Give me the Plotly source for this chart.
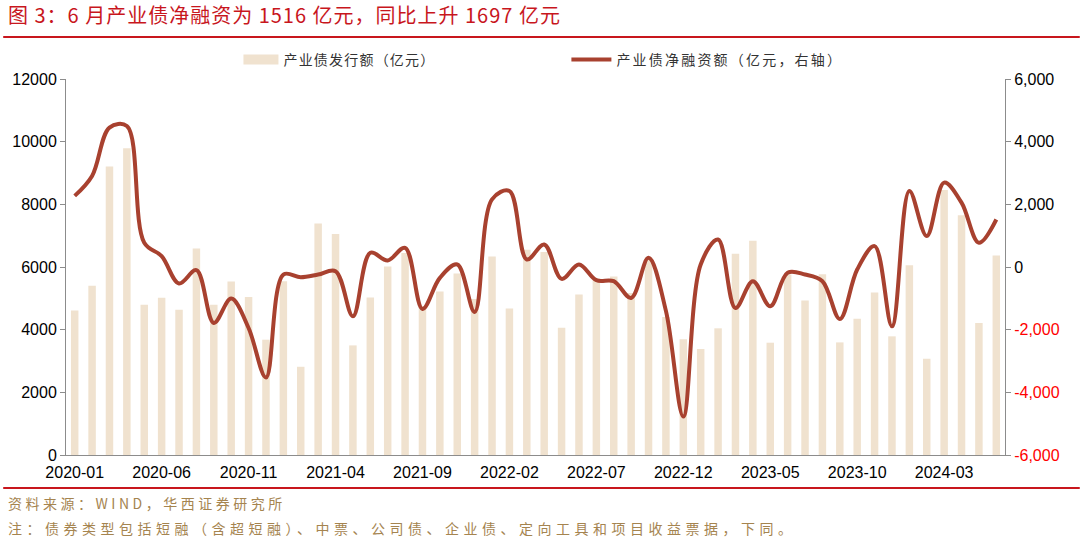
import plotly.graph_objects as go

months = ["2020-01","2020-02","2020-03","2020-04","2020-05","2020-06","2020-07","2020-08","2020-09","2020-10","2020-11","2020-12",
          "2021-01","2021-02","2021-03","2021-04","2021-05","2021-06","2021-07","2021-08","2021-09","2021-10","2021-11","2021-12",
          "2022-01","2022-02","2022-03","2022-04","2022-05","2022-06","2022-07","2022-08","2022-09","2022-10","2022-11","2022-12",
          "2023-01","2023-02","2023-03","2023-04","2023-05","2023-06","2023-07","2023-08","2023-09","2023-10","2023-11","2023-12",
          "2024-01","2024-02","2024-03","2024-04","2024-05","2024-06"]

issuance = [4615, 5404, 9210, 9786, 4797, 5021, 4637, 6588, 4797, 5536, 5045, 3680,
            5546, 2816, 7392, 7050, 3498, 5024, 6016, 6450, 4750, 5216, 5792, 4981,
            6336, 4672, 6549, 6475, 4064, 5120, 5632, 5696, 5173, 6300, 4405, 3691,
            3381, 4043, 6421, 6837, 3584, 5760, 4928, 5770, 3594, 4352, 5184, 3787,
            6059, 3072, 8459, 7648, 4213, 6368]

net_financing = [2270, 2906, 4450, 4500, 773, 347, -528, -102, -1786, -1008, -1946, -3525,
                 -240, -325, -240, -133, -1573, 453, 208, 613, -1338, -347, 80, -1434,
                 2160, 2427, 240, 720, -378, 80, -421, -453, -987, 293, -1400, -4773,
                 80, 880, -1307, -453, -1253, -181, -240, -453, -1659, -80, 667, -1893,
                 2427, 987, 2693, 2053, 773, 1516]

x_tick_labels = ["2020-01","2020-06","2020-11","2021-04","2021-09","2022-02","2022-07",
                 "2022-12","2023-05","2023-10","2024-03"]
left_ticks = [0, 2000, 4000, 6000, 8000, 10000, 12000]
right_ticks = [-6000, -4000, -2000, 0, 2000, 4000, 6000]

title_text = "图 3：6 月产业债净融资为 1516 亿元，同比上升 1697 亿元"
source_text = "资料来源：WIND，华西证券研究所"
note_text = "注：债券类型包括短融（含超短融）、中票、公司债、企业债、定向工具和项目收益票据，下同。"
bar_name = "产业债发行额（亿元）"
line_name = "产业债净融资额（亿元，右轴）"

W, H = 1080, 550
L, R, T, B = 63, 75, 79, 95
PW, PH = W - L - R, H - T - B

BAR_COLOR = "#F0E2CF"
LINE_COLOR = "#A8412F"

def px(xp):
    return (xp - L) / PW

def py(yp):
    return (H - B - yp) / PH

def spaced(text, sp):
    return f"<span style='letter-spacing:{sp}px'>{text}</span>"

def fmt_right(v):
    s = f"{v:,}"
    if v < 0:
        return f"<span style='color:#FF0000'>{s}</span>"
    return s

fig = go.Figure()
fig.add_trace(go.Bar(x=months, y=issuance, name=bar_name, marker_color=BAR_COLOR,
                     marker_line_width=0, yaxis="y", showlegend=False))
# legend entry for the bars, drawn as a wide swatch like the reference
fig.add_trace(go.Scatter(x=[None], y=[None], name=spaced(bar_name, 1.2), mode="lines",
                         line=dict(color=BAR_COLOR, width=12), yaxis="y",
                         legend="legend", showlegend=True, hoverinfo="skip"))
fig.add_trace(go.Scatter(x=months, y=net_financing, name=spaced(line_name, 2.2), mode="lines",
                         line=dict(color=LINE_COLOR, width=4, shape="spline", smoothing=1.0),
                         yaxis="y2", legend="legend2", showlegend=True))

tick_font = dict(family="Liberation Sans, Arial", size=16, color="#000000")
axis_col = "#8C8C8C"
legend_font = dict(family="Noto Sans CJK SC", size=14, color="#333333")

fig.update_layout(
    width=W, height=H,
    margin=dict(l=L, r=R, t=T, b=B),
    paper_bgcolor="white", plot_bgcolor="white",
    bargap=0.57,
    showlegend=True,
    xaxis=dict(type="category", categoryorder="array", categoryarray=months,
               tickmode="array", tickvals=x_tick_labels, ticktext=x_tick_labels,
               tickfont=tick_font, showline=True, linecolor=axis_col, linewidth=1,
               ticks="", showgrid=False, zeroline=False, tickangle=0,
               ticklabelstandoff=3),
    yaxis=dict(range=[0, 12000], tickmode="array", tickvals=left_ticks,
               ticktext=[str(v) for v in left_ticks], tickfont=tick_font,
               showline=True, linecolor=axis_col, linewidth=1, ticks="outside",
               ticklen=5, tickcolor=axis_col, showgrid=False, zeroline=False),
    yaxis2=dict(range=[-6000, 6000], overlaying="y", side="right", tickmode="array",
                tickvals=right_ticks, ticktext=[fmt_right(v) for v in right_ticks],
                tickfont=tick_font, showline=True, linecolor=axis_col, linewidth=1,
                ticks="outside", ticklen=5, tickcolor=axis_col, showgrid=False,
                zeroline=False),
    legend=dict(x=px(236), y=py(60), xanchor="left", yanchor="middle", orientation="h",
                font=legend_font, bgcolor="rgba(0,0,0,0)", itemwidth=35),
    legend2=dict(x=px(565), y=py(60), xanchor="left", yanchor="middle", orientation="h",
                 font=legend_font, bgcolor="rgba(0,0,0,0)", itemwidth=40),
    annotations=[
        dict(text=spaced(title_text, 1.0), xref="paper", yref="paper", x=px(3), y=py(15),
             xanchor="left", yanchor="middle", showarrow=False,
             font=dict(family="Noto Sans CJK SC", size=20, color="#C8161D")),
        dict(text=spaced(source_text, 3.5), xref="paper", yref="paper", x=px(3), y=py(503),
             xanchor="left", yanchor="middle", showarrow=False,
             font=dict(family="Noto Sans CJK SC", size=14, color="#A5844F")),
        dict(text=spaced(note_text, 4.5), xref="paper", yref="paper", x=px(3), y=py(528),
             xanchor="left", yanchor="middle", showarrow=False,
             font=dict(family="Noto Sans CJK SC", size=14, color="#A5844F")),
    ],
    shapes=[
        dict(type="line", xref="paper", yref="paper", x0=px(0), x1=px(W), y0=py(37), y1=py(37),
             line=dict(color="#C8161D", width=2)),
        dict(type="line", xref="paper", yref="paper", x0=px(0), x1=px(W), y0=py(488), y1=py(488),
             line=dict(color="#C8161D", width=2)),
    ],
)

fig.write_html("out.html")
